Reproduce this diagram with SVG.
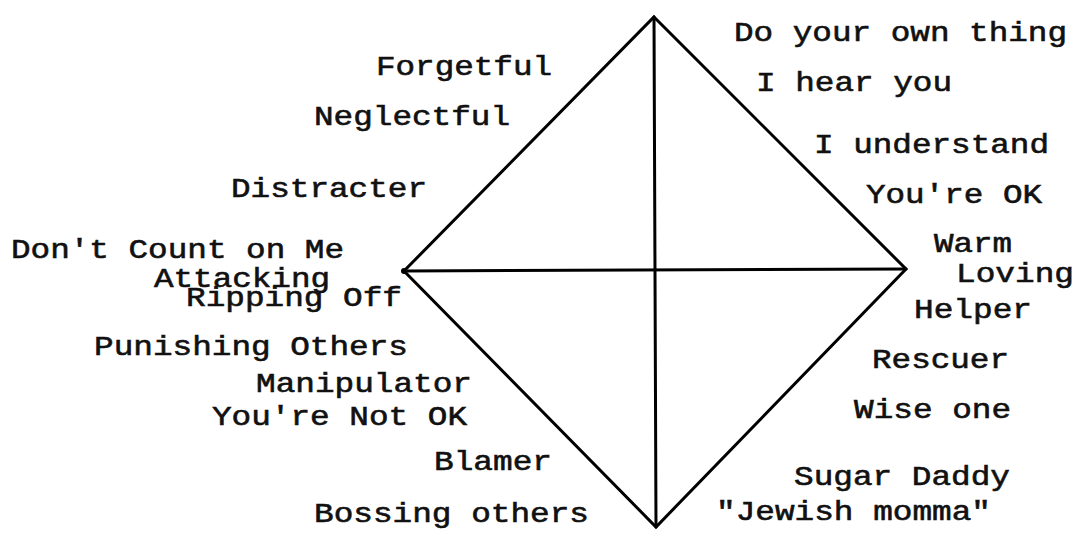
<svg xmlns="http://www.w3.org/2000/svg" width="1086" height="539" viewBox="0 0 1086 539">
<style>
.bg{fill:#ffffff}
.ln{stroke:#000;stroke-width:3;fill:none;stroke-linejoin:miter;stroke-linecap:round}
.t{font-family:"Courier New","Liberation Mono",monospace;font-size:28px;fill:#111;stroke:#111;stroke-width:0.6}
</style>
<rect class="bg" x="0" y="0" width="1086" height="539"/>
<g id="connectors">
<path class="ln" d="M654,17 L906,269 L656,527 L404,271 Z"/>
<line class="ln" x1="404" y1="271" x2="906" y2="269"/>
<line class="ln" x1="654" y1="17" x2="656" y2="527"/>
<circle cx="404" cy="271" r="3" fill="#000"/>
</g>
<g id="label-forgetful"><text class="t" x="376" y="75" textLength="176" lengthAdjust="spacingAndGlyphs">Forgetful</text></g>
<g id="label-neglectful"><text class="t" x="314" y="125" textLength="196" lengthAdjust="spacingAndGlyphs">Neglectful</text></g>
<g id="label-distracter"><text class="t" x="231" y="197" textLength="196" lengthAdjust="spacingAndGlyphs">Distracter</text></g>
<g id="label-dont-count"><text class="t" x="11" y="258" textLength="333" lengthAdjust="spacingAndGlyphs">Don't Count on Me</text></g>
<g id="label-attacking"><text class="t" x="154" y="287" textLength="176" lengthAdjust="spacingAndGlyphs">Attacking</text></g>
<g id="label-ripping-off"><text class="t" x="186" y="306" textLength="216" lengthAdjust="spacingAndGlyphs">Ripping Off</text></g>
<g id="label-punishing"><text class="t" x="94" y="355" textLength="314" lengthAdjust="spacingAndGlyphs">Punishing Others</text></g>
<g id="label-manipulator"><text class="t" x="256" y="392" textLength="216" lengthAdjust="spacingAndGlyphs">Manipulator</text></g>
<g id="label-not-ok"><text class="t" x="212" y="425" textLength="255" lengthAdjust="spacingAndGlyphs">You're Not OK</text></g>
<g id="label-blamer"><text class="t" x="434" y="470" textLength="118" lengthAdjust="spacingAndGlyphs">Blamer</text></g>
<g id="label-bossing"><text class="t" x="314" y="522" textLength="275" lengthAdjust="spacingAndGlyphs">Bossing others</text></g>
<g id="label-own-thing"><text class="t" x="734" y="41" textLength="333" lengthAdjust="spacingAndGlyphs">Do your own thing</text></g>
<g id="label-hear-you"><text class="t" x="756" y="91" textLength="196" lengthAdjust="spacingAndGlyphs">I hear you</text></g>
<g id="label-understand"><text class="t" x="814" y="153" textLength="235" lengthAdjust="spacingAndGlyphs">I understand</text></g>
<g id="label-youre-ok"><text class="t" x="866" y="203" textLength="176" lengthAdjust="spacingAndGlyphs">You're OK</text></g>
<g id="label-warm"><text class="t" x="934" y="252" textLength="78" lengthAdjust="spacingAndGlyphs">Warm</text></g>
<g id="label-loving"><text class="t" x="956" y="282" textLength="118" lengthAdjust="spacingAndGlyphs">Loving</text></g>
<g id="label-helper"><text class="t" x="914" y="318" textLength="118" lengthAdjust="spacingAndGlyphs">Helper</text></g>
<g id="label-rescuer"><text class="t" x="872" y="368" textLength="137" lengthAdjust="spacingAndGlyphs">Rescuer</text></g>
<g id="label-wise-one"><text class="t" x="854" y="418" textLength="157" lengthAdjust="spacingAndGlyphs">Wise one</text></g>
<g id="label-sugar-daddy"><text class="t" x="794" y="485" textLength="216" lengthAdjust="spacingAndGlyphs">Sugar Daddy</text></g>
<g id="label-jewish-momma"><text class="t" x="716" y="520" textLength="275" lengthAdjust="spacingAndGlyphs">"Jewish momma"</text></g>
</svg>
